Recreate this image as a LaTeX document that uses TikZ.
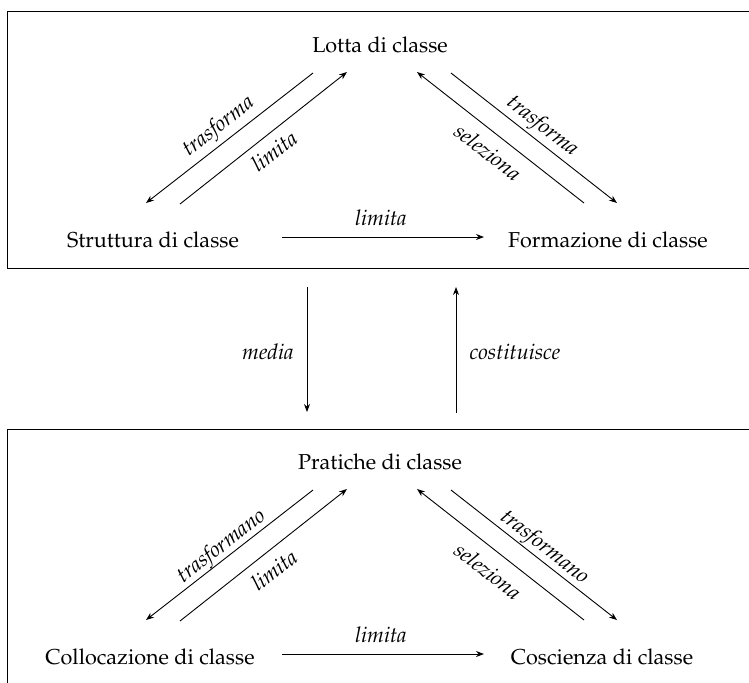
\documentclass[tikz,border=0pt]{standalone}
\usepackage[T1]{fontenc}
\usepackage{mathpazo}
\usetikzlibrary{arrows.meta}
\begin{document}
\begin{tikzpicture}[x=0.5pt,y=-0.5pt,
  txt/.style={font=\fontsize{10.8}{13}\selectfont, inner sep=0pt},
  lbl/.style={font=\fontsize{10.8}{13}\selectfont\itshape, inner sep=0pt},
  arr/.style={-{Stealth[length=4pt,width=3pt]}, line width=0.45pt},
  frame/.style={line width=0.5pt}]
\useasboundingbox (0,0) rectangle (749,682);
\clip (0,0) rectangle (749,682);
% frames
\coordinate (f1a) at (752,11); \coordinate (f1b) at (7,11);
\coordinate (f1c) at (7,268); \coordinate (f1d) at (752,268);
\draw[frame] (f1a) -- (f1b) -- (f1c) -- (f1d);
\coordinate (f2a) at (752,429); \coordinate (f2b) at (7,429);
\coordinate (f2c) at (7,690);
\draw[frame] (f2a) -- (f2b) -- (f2c);

% top triangle
\node[txt] (lotta) at (380,45) {Lotta di classe};
\node[txt] (strut) at (153,240) {Struttura di classe};
\node[txt] (form) at (608,240) {Formazione di classe};
\coordinate (a1s) at (313,73); \coordinate (a1e) at (146,203);
\coordinate (a2s) at (180,204); \coordinate (a2e) at (347,72);
\coordinate (a3s) at (584,203); \coordinate (a3e) at (417,72);
\coordinate (a4s) at (451,73); \coordinate (a4e) at (617,203);
\coordinate (h1s) at (282,237); \coordinate (h1e) at (484,237);
\draw[arr] (a1s) -- (a1e);
\draw[arr] (a2s) -- (a2e);
\draw[arr] (a3s) -- (a3e);
\draw[arr] (a4s) -- (a4e);
\draw[arr] (h1s) -- (h1e);
\node[lbl, rotate=38] (t1) at (219,127) {trasforma};
\node[lbl, rotate=38] (l1) at (274,151) {limita};
\node[lbl, rotate=-38] (t2) at (542,127) {trasforma};
\node[lbl, rotate=-38] (s1) at (488,152) {seleziona};
\node[lbl] (l2) at (381,218) {limita};

% vertical arrows
\coordinate (m1s) at (307,287); \coordinate (m1e) at (307,412);
\coordinate (c1s) at (456,413); \coordinate (c1e) at (456,287);
\draw[arr] (m1s) -- (m1e);
\draw[arr] (c1s) -- (c1e);
\node[lbl] (media) at (268,352) {media};
\node[lbl] (cost) at (515,352) {costituisce};

% bottom triangle
\node[txt] (prat) at (380,462) {Pratiche di classe};
\node[txt] (coll) at (150,657) {Collocazione di classe};
\node[txt] (cosc) at (602,657) {Coscienza di classe};
\coordinate (b1s) at (313,490); \coordinate (b1e) at (146,620);
\coordinate (b2s) at (180,621); \coordinate (b2e) at (347,489);
\coordinate (b3s) at (584,620); \coordinate (b3e) at (417,489);
\coordinate (b4s) at (451,490); \coordinate (b4e) at (617,620);
\coordinate (h2s) at (282,654); \coordinate (h2e) at (484,654);
\draw[arr] (b1s) -- (b1e);
\draw[arr] (b2s) -- (b2e);
\draw[arr] (b3s) -- (b3e);
\draw[arr] (b4s) -- (b4e);
\draw[arr] (h2s) -- (h2e);
\node[lbl, rotate=38] (t3) at (222,547) {trasformano};
\node[lbl, rotate=38] (l3) at (274,570) {limita};
\node[lbl, rotate=-38] (t4) at (544,548) {trasformano};
\node[lbl, rotate=-38] (s2) at (488,571) {seleziona};
\node[lbl] (l4) at (381,635) {limita};
\end{tikzpicture}
\end{document}
